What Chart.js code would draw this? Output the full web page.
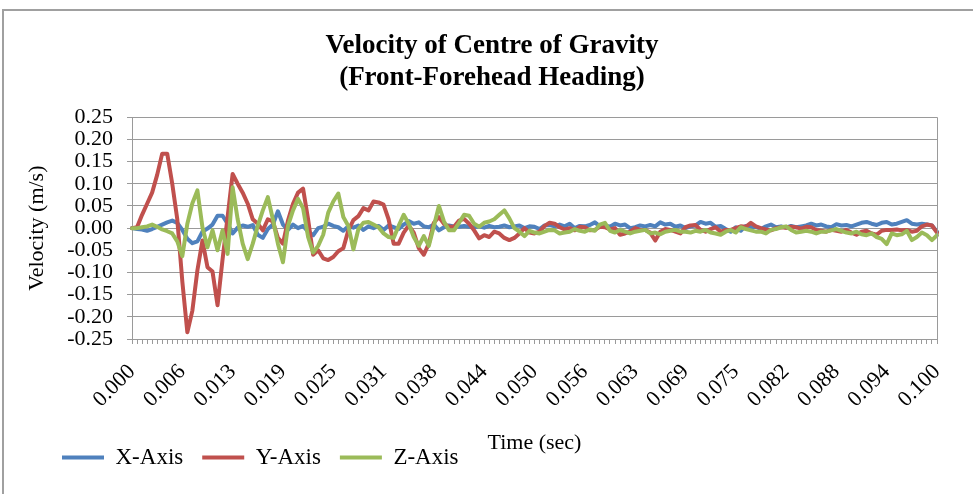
<!DOCTYPE html>
<html>
<head>
<meta charset="utf-8">
<script src="https://cdn.jsdelivr.net/npm/chart.js@4.4.1/dist/chart.umd.min.js"></script>
<style>
html,body{margin:0;padding:0;background:#fff;overflow:hidden;}
#wrap{position:relative;width:973px;height:494px;}
#frame{position:absolute;left:2px;top:9px;width:1000px;height:600px;border:2px solid #a0a0a0;box-sizing:border-box;pointer-events:none;}
</style>
</head>
<body>
<div id="wrap"><canvas id="c"></canvas><div id="frame"></div></div>
<script>
// ---- data ----
const chartTitle = ['Velocity of Centre of Gravity', '(Front-Forehead Heading)'];
const xTitle = 'Time (sec)';
const yTitle = 'Velocity (m/s)';
const seriesNames = ['X-Axis', 'Y-Axis', 'Z-Axis'];
const seriesColors = ['#4F81BD', '#C0504D', '#9BBB59'];
const timeTickLabels = ['0.000','0.006','0.013','0.019','0.025','0.031','0.038','0.044','0.050','0.056','0.063','0.069','0.075','0.082','0.088','0.094','0.100'];
const samplesPerLabel = 10;
const sampleCount = 161;
const timeCategories = Array.from({length: sampleCount}, (_, i) => (i * 0.1 / (sampleCount - 1)).toFixed(5));

const xAxisVelocity = [
 0, -0.002, -0.003, -0.006, -0.002, 0.003, 0.008, 0.013, 0.017, 0.012,
 -0.004, -0.024, -0.034, -0.03, -0.008, -0.001, 0.008, 0.028, 0.028, 0.01,
 -0.012, 0.001, 0.006, 0.003, 0.007, -0.015, -0.022, -0.002, 0.008, 0.038,
 0.008, -0.004, 0.008, 0, 0.005, -0.008, -0.016, 0, 0.003, 0.01,
 0.005, 0.002, -0.006, 0.004, 0.001, 0.006, -0.004, 0.004, 0, 0.005,
 -0.004, 0.006, 0.002, -0.002, 0.008, 0.016, 0.01, 0.013, 0.004, 0.002,
 0.008, -0.005, 0.002, 0.006, 0.004, 0.003, 0.005, 0.003, 0.002, 0.004,
 0.001, 0.005, 0.002, 0.003, 0.006, 0.002, 0.004, 0.006, 0, 0.004,
 0.003, -0.002, 0.006, 0.007, 0.004, 0.008, 0.004, 0.01, 0, 0.005,
 0.004, 0.007, 0.013, 0.004, 0.006, 0.003, 0.01, 0.006, 0.008, 0,
 0.002, 0.006, 0.004, 0.007, 0.004, 0.013, 0.008, 0.01, 0.003, 0.006,
 0, 0.004, 0.006, 0.014, 0.01, 0.012, 0.003, 0.005, -0.002, -0.008,
 0.002, -0.006, 0.005, 0.002, 0.003, -0.002, 0.004, 0.008, 0.002, 0.004,
 0.001, 0.005, 0.002, 0.004, 0.006, 0.01, 0.006, 0.008, 0.004, 0.002,
 0.009, 0.006, 0.007, 0.004, 0.008, 0.012, 0.014, 0.01, 0.007, 0.012,
 0.014, 0.008, 0.01, 0.014, 0.018, 0.01, 0.008, 0.01, 0.008, 0.006,
 -0.008
];
const yAxisVelocity = [
 0, 0.002, 0.03, 0.055, 0.08, 0.12, 0.168, 0.168, 0.1, 0.02,
 -0.12, -0.235, -0.186, -0.095, -0.028, -0.088, -0.098, -0.174, -0.07, 0.025,
 0.122, 0.1, 0.08, 0.055, 0.02, 0.01, -0.005, 0.02, 0.015, -0.022,
 -0.035, 0.017, 0.055, 0.08, 0.089, 0.02, -0.06, -0.05, -0.068, -0.072,
 -0.065, -0.052, -0.045, -0.005, 0.018, 0.027, 0.045, 0.04, 0.06, 0.058,
 0.053, 0.02, -0.035, -0.035, -0.01, 0.006, -0.01, -0.045, -0.06, -0.035,
 0.012, 0.025, 0.01, 0.003, 0.003, 0.017, 0.021, 0.01, -0.005, -0.023,
 -0.016, -0.02, -0.008, -0.012, -0.022, -0.027, -0.022, -0.012, 0, -0.01,
 -0.012, -0.008, 0.005, 0.012, 0.01, 0.002, -0.003, 0, -0.005, 0.003,
 0.002, -0.005, -0.004, 0.003, 0.002, -0.003, 0, -0.015, -0.012, -0.008,
 0, -0.004, -0.004, -0.01, -0.028, -0.008, -0.002, -0.004, -0.008, -0.012,
 0.002, 0.006, 0.007, -0.004, -0.008, -0.002, 0.002, -0.008, -0.004, -0.004,
 0, 0.004, 0.003, 0.012, 0.004, 0, -0.003, -0.005, 0, 0.002,
 0.001, 0.003, 0.002, -0.001, 0.003, 0.002, -0.004, -0.006, -0.008, -0.004,
 -0.006, -0.008, -0.004, -0.01, -0.015, -0.008, -0.006, -0.012, -0.015, -0.006,
 -0.004, -0.004, -0.003, -0.005, -0.004, -0.008, -0.006, 0.004, 0.008, 0.006,
 -0.01
];
const zAxisVelocity = [
 0, 0, 0.002, 0.004, 0.008, 0.003, -0.003, -0.007, -0.012, -0.03,
 -0.063, 0.01, 0.056, 0.085, 0.002, -0.043, -0.005, -0.05, -0.005, -0.058,
 0.092, 0.02, -0.035, -0.07, -0.035, 0.005, 0.04, 0.07, 0.02, -0.035,
 -0.077, 0.005, 0.04, 0.066, 0.045, -0.02, -0.055, -0.04, -0.015, 0.035,
 0.06, 0.078, 0.025, 0.005, -0.048, -0.002, 0.012, 0.014, 0.008, 0.002,
 -0.012, -0.02, -0.022, 0.005, 0.03, 0.01, -0.02, -0.04, -0.018, -0.04,
 0.005, 0.05, 0.015, -0.005, -0.005, 0.012, 0.03, 0.028, 0.01, 0.003,
 0.012, 0.015, 0.02, 0.03, 0.04, 0.022, 0, -0.008, -0.018, -0.006,
 -0.01, -0.012, -0.008, -0.004, -0.005, -0.012, -0.01, -0.008, -0.002, -0.006,
 -0.008, -0.003, -0.006, 0.008, 0.012, -0.006, -0.01, -0.004, -0.008, -0.012,
 -0.008, -0.006, -0.004, -0.012, -0.01, -0.014, -0.008, -0.006, -0.004, -0.008,
 -0.008, -0.01, -0.006, -0.008, -0.004, -0.01, -0.012, -0.015, -0.008, -0.004,
 -0.01, 0.002, -0.002, -0.005, -0.008, -0.008, -0.012, -0.004, -0.002, 0.002,
 0.004, -0.004, -0.01, -0.008, -0.006, -0.008, -0.012, -0.008, -0.008, -0.005,
 -0.002, -0.006, -0.01, -0.012, -0.008, -0.014, -0.016, -0.012, -0.02, -0.024,
 -0.036, -0.012, -0.016, -0.014, -0.006, -0.027, -0.02, -0.01, -0.016, -0.027,
 -0.016
];
const yMin = -0.25, yMax = 0.25, yStep = 0.05;

// ---- layout constants ----
const FONT = '"Liberation Serif", "Times New Roman", serif';
const PLOT_LEFT = 132;
const LEGEND_LEFT = 62;
const LEGEND_SHIFT_Y = -15;
const TITLE_CENTER_X = 492;

const seriesValues = [xAxisVelocity, yAxisVelocity, zAxisVelocity];
const datasets = seriesNames.map((name, k) => ({
  label: name,
  data: seriesValues[k],
  borderColor: seriesColors[k],
  backgroundColor: seriesColors[k],
  borderWidth: 4,
  pointRadius: 0,
  tension: 0,
  borderJoinStyle: 'round',
  borderCapStyle: 'round',
  order: seriesNames.length - 1 - k
}));

const boxShift = {
  id: 'boxShift',
  afterLayout(chart) {
    const lg = chart.legend;
    if (lg) {
      const pad = chart.options.plugins.legend.labels.padding;
      const dx = LEGEND_LEFT - pad - lg.left;
      lg.left += dx; lg.right += dx;
      lg.top += LEGEND_SHIFT_Y; lg.bottom += LEGEND_SHIFT_Y;
    }
    const tb = chart.titleBlock;
    if (tb) {
      const dx = TITLE_CENTER_X - (tb.left + tb.right) / 2;
      tb.left += dx; tb.right += dx;
    }
  }
};
const rightBorder = {
  id: 'rightBorder',
  afterDatasetsDraw(chart) {
    const {ctx, chartArea} = chart;
    ctx.save();
    ctx.strokeStyle = '#9a9a9a';
    ctx.lineWidth = 1;
    ctx.beginPath();
    ctx.moveTo(Math.round(chartArea.right) + 0.5, chartArea.top);
    ctx.lineTo(Math.round(chartArea.right) + 0.5, chartArea.bottom);
    ctx.stroke();
    ctx.restore();
  }
};

new Chart(document.getElementById('c'), {
  type: 'line',
  data: { labels: timeCategories, datasets },
  plugins: [boxShift, rightBorder],
  options: {
    responsive: true,
    maintainAspectRatio: false,
    devicePixelRatio: 1,
    animation: false,
    layout: { padding: { left: 2, right: 36, top: 0, bottom: 0 } },
    plugins: {
      title: {
        display: true,
        text: chartTitle,
        color: '#000',
        font: { family: FONT, size: 27, weight: 'bold', lineHeight: 1.19 },
        padding: { top: 30, bottom: 23 }
      },
      legend: {
        position: 'bottom',
        align: 'start',
        labels: {
          color: '#000',
          font: { family: FONT, size: 23 },
          boxWidth: 42,
          boxHeight: 4,
          padding: 19,
          generateLabels(chart) {
            const items = Chart.defaults.plugins.legend.labels.generateLabels(chart);
            items.forEach(it => { it.lineWidth = 0; it.fillStyle = it.strokeStyle; });
            return items.sort((a, b) => a.datasetIndex - b.datasetIndex);
          }
        }
      },
      tooltip: { enabled: false }
    },
    scales: {
      x: {
        type: 'category',
        offset: false,
        grid: { display: true, drawOnChartArea: false, drawTicks: true, tickLength: 5, color: '#9a9a9a' },
        border: { display: true, color: '#9a9a9a' },
        ticks: {
          autoSkip: false,
          maxRotation: 45,
          minRotation: 45,
          padding: 15,
          color: '#000',
          font: { family: FONT, size: 22 },
          callback: (v, i) => (i % samplesPerLabel === 0 ? timeTickLabels[i / samplesPerLabel] : '')
        },
        title: { display: true, text: xTitle, color: '#000', font: { family: FONT, size: 22 }, padding: { top: 0, bottom: -14 } },
        afterFit(scale) { scale.height = 103; }
      },
      y: {
        min: yMin,
        max: yMax,
        grid: { color: '#9a9a9a', tickLength: 5, lineWidth: 1 },
        border: { display: true, color: '#9a9a9a' },
        ticks: {
          autoSkip: false,
          stepSize: yStep,
          padding: 14,
          color: '#000',
          font: { family: FONT, size: 22 },
          callback: v => Number(v).toFixed(2)
        },
        title: { display: true, text: yTitle, color: '#000', font: { family: FONT, size: 22 }, padding: { top: 22, bottom: 0 } },
        afterFit(scale) { scale.width = PLOT_LEFT - 2; }
      }
    }
  }
});
</script>
</body>
</html>
